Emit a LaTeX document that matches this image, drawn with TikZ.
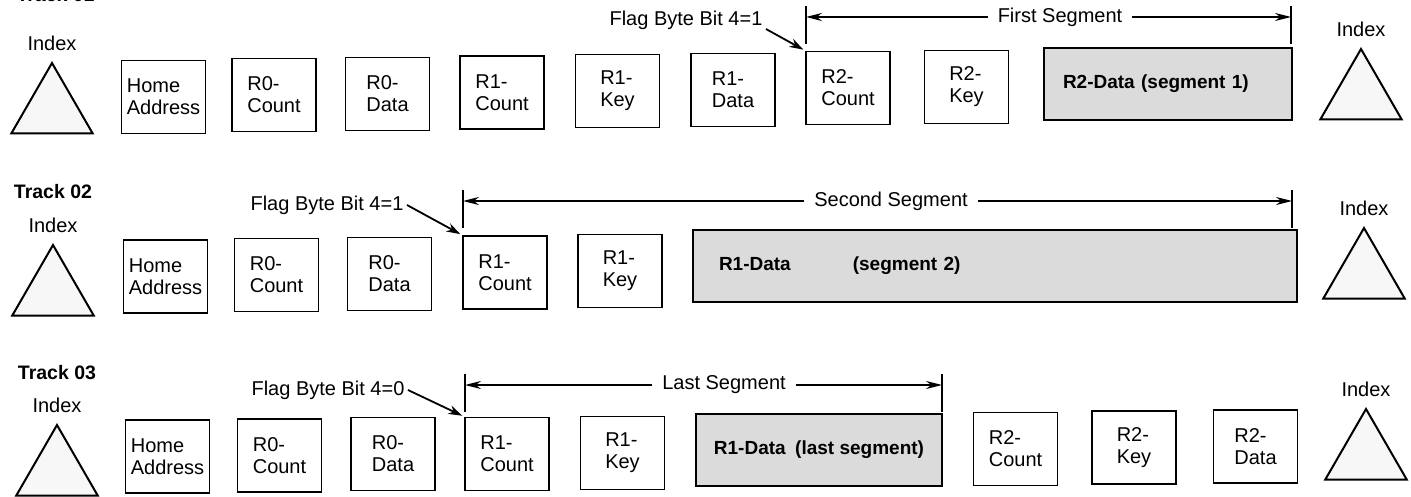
\documentclass[tikz,border=0pt]{standalone}
\usepackage{fontspec}
\setmainfont{Liberation Sans}
\usetikzlibrary{positioning,shapes.geometric,arrows.meta}

\begin{document}
\begin{tikzpicture}[x=1pt, y=-1pt, font=\fontsize{20}{22}\selectfont,
        every label/.style = {yshift=7pt},
        rec/.style = {draw, line width=1.8pt, minimum width=84pt, minimum height=73pt, align=left, inner sep=2pt},
        seg/.style = {draw, line width=1.8pt, fill=black!14, minimum height=72pt, font=\fontsize{19}{22}\selectfont\bfseries},
        tri/.style = {draw, line width=2pt, fill=black!3, regular polygon, regular polygon sides=3, minimum size=94pt, inner sep=0pt},
        track/.style = {font=\fontsize{19.5}{22}\selectfont\bfseries},
        tick/.style = {line width=1.5pt},
        span/.style = {line width=1.5pt, -{Stealth[length=16pt,width=8pt]}},
        spanlbl/.style = {inner xsep=10pt},
        flag/.style = {line width=1.8pt, -{Stealth[length=14pt,width=9pt]}, shorten >=2pt}]
    \useasboundingbox (0,0) rectangle (1411,497);

    % Track 01
    \node[track, anchor=base west] (tr1) at (13,2) {Track 01};
    \node[tri, label={[name=ix1]above:Index}] (ta1) at (52,110) {};
    \node[rec] (ha1)  at (163.5,97) {Home\\Address};
    \node[rec] (r0c1) at (274,95)   {R0-\\Count};
    \node[rec] (r0d1) at (387.5,94) {R0-\\Data};
    \node[rec] (r1c1) at (502,92.5) {R1-\\Count};
    \node[rec] (r1k1) at (617.5,91) {R1-\\Key};
    \node[rec] (r1d1) at (733,90)   {R1-\\Data};
    \node[rec] (r2c1) at (848,88)   {R2-\\Count};
    \node[rec] (r2k1) at (966.5,87) {R2-\\Key};
    \node[seg, text width=210pt, inner xsep=19pt, align=left] (d1) at (1168,84) {R2-Data (segment 1)};
    \node[tri, label={[name=ix1b]above:Index}] (tb1) at (1361,96) {};

    \node (f1) at (686,20) {Flag Byte Bit 4=1};
    \draw[flag] ([yshift=-9pt]f1.east) -- (r2c1.north west);

    \coordinate (b1l) at (806,17);
    \coordinate (b1r) at (1291,17);
    \node[spanlbl] (s1) at (1060,17) {First Segment};
    \draw[tick] ([yshift=11pt]b1l) -- ([yshift=-27pt]b1l);
    \draw[tick] ([yshift=11pt]b1r) -- ([yshift=-27pt]b1r);
    \draw[span] (s1.west) -- (b1l);
    \draw[span] (s1.east) -- (b1r);

    % Track 02
    \node[tri, label={[name=ix2]above:Index}] (ta2) at (53,292) {};
    \node[track, above=12pt of ix2] (tr2) {Track 02};
    \node[rec] (ha2)  at (165.5,276.5) {Home\\Address};
    \node[rec] (r0c2) at (276.5,275)   {R0-\\Count};
    \node[rec] (r0d2) at (389.5,274)   {R0-\\Data};
    \node[rec] (r1c2) at (505,272.5)   {R1-\\Count};
    \node[rec] (r1k2) at (620,271)     {R1-\\Key};
    \node[seg, text width=552pt, inner xsep=26pt, align=left] (d2) at (995,266) {R1-Data\hspace{62pt}(segment 2)};
    \node[tri, label={[name=ix2b]above:Index}] (tb2) at (1364,275) {};

    \node (f2) at (327,205) {Flag Byte Bit 4=1};
    \draw[flag] (f2.east) -- (r1c2.north west);

    \coordinate (b2l) at (463,201);
    \coordinate (b2r) at (1292,201);
    \node[spanlbl] (s2) at (891,201) {Second Segment};
    \draw[tick] ([yshift=11pt]b2l) -- ([yshift=-27pt]b2l);
    \draw[tick] ([yshift=11pt]b2r) -- ([yshift=-27pt]b2r);
    \draw[span] (s2.west) -- (b2l);
    \draw[span] (s2.east) -- (b2r);

    % Track 03
    \node[tri, label={[name=ix3]above:Index}] (ta3) at (57,472) {};
    \node[track, above=11pt of ix3] (tr3) {Track 03};
    \node[rec] (ha3)  at (167.5,456.5) {Home\\Address};
    \node[rec] (r0c3) at (279.5,455.5) {R0-\\Count};
    \node[rec] (r0d3) at (393,454)     {R0-\\Data};
    \node[rec] (r1c3) at (507,454)     {R1-\\Count};
    \node[rec] (r1k3) at (622.5,453)   {R1-\\Key};
    \node[seg, minimum width=246pt] (d3) at (819,450) {R1-Data\enspace(last segment)};
    \node[rec] (r2c3) at (1015.5,449)  {R2-\\Count};
    \node[rec] (r2k3) at (1134,447.5)  {R2-\\Key};
    \node[rec] (r2d3) at (1255.5,446.5) {R2-\\Data};
    \node[tri, label={[name=ix3b]above:Index}] (tb3) at (1366,456) {};

    \node (f3) at (328,390) {Flag Byte Bit 4=0};
    \draw[flag] (f3.east) -- (r1c3.north west);

    \coordinate (b3l) at (465,385);
    \coordinate (b3r) at (942,385);
    \node[spanlbl] (s3) at (724,385) {Last Segment};
    \draw[tick] ([yshift=11pt]b3l) -- ([yshift=-27pt]b3l);
    \draw[tick] ([yshift=11pt]b3r) -- ([yshift=-27pt]b3r);
    \draw[span] (s3.west) -- (b3l);
    \draw[span] (s3.east) -- (b3r);

\end{tikzpicture}
\end{document}
